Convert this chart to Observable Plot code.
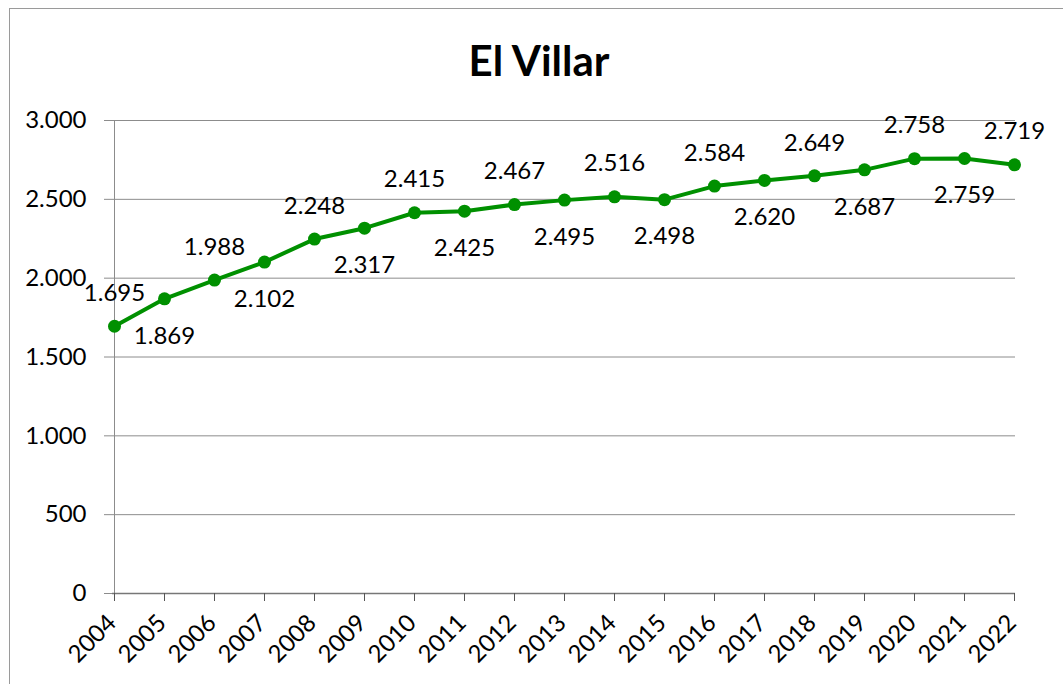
<!DOCTYPE html>
<html>
<head>
<meta charset="utf-8">
<script src="https://cdn.jsdelivr.net/npm/d3@7"></script>
<script src="https://cdn.jsdelivr.net/npm/@observablehq/plot@0.6"></script>
<style>
  html, body { margin: 0; padding: 0; background: #fff; overflow: hidden; }
  #wrap { position: relative; width: 1063px; height: 684px; }
  #frame { position: absolute; left: 9px; top: 8px; width: 1100px; height: 700px; border: 1px solid #9a9a9a; box-sizing: border-box; pointer-events: none; }
  #wrap svg { position: absolute; left: 0; top: 0; }
</style>
</head>
<body>
<div id="wrap"><div id="frame"></div></div>
<script>
const title = "El Villar";
const years = [2004, 2005, 2006, 2007, 2008, 2009, 2010, 2011, 2012, 2013, 2014, 2015, 2016, 2017, 2018, 2019, 2020, 2021, 2022];
const population = [1695, 1869, 1988, 2102, 2248, 2317, 2415, 2425, 2467, 2495, 2516, 2498, 2584, 2620, 2649, 2687, 2758, 2759, 2719];
const labelSide = ["above", "below", "above", "below", "above", "below", "above", "below", "above", "below", "above", "below", "above", "below", "above", "below", "above", "below", "above"];
const yTicks = [0, 500, 1000, 1500, 2000, 2500, 3000];

const fmt = d => d3.format(",")(d).replace(/,/g, ".");
const data = years.map((y, i) => ({year: y, value: population[i], side: labelSide[i]}));
const green = "#009000";
const font = "Lato, 'Open Sans', sans-serif";

const chart = Plot.plot({
  width: 1063,
  height: 684,
  marginLeft: 112,
  marginRight: 48,
  marginTop: 120,
  marginBottom: 91,
  style: { fontFamily: font, fontSize: "24px", color: "#000", background: "transparent" },
  x: { type: "point", domain: years, padding: 0 },
  y: { domain: [0, 3000] },
  marks: [
    Plot.gridY(yTicks, { stroke: "#8c8c8c", strokeOpacity: 1, strokeWidth: 1 }),
    Plot.axisY(yTicks, { tickSize: 8, tickPadding: 18, stroke: "#8c8c8c", tickFormat: fmt, fontSize: 24, label: null }),
    Plot.ruleX([years[0]], { stroke: "#8c8c8c", strokeWidth: 1 }),
    Plot.ruleY([0], { stroke: "#777", strokeWidth: 1.5 }),
    Plot.axisX(years, { tickSize: 8, stroke: "#555", tickFormat: () => "", label: null }),
    Plot.text(years, { x: d => d, frameAnchor: "bottom", text: d => String(d), rotate: -45, textAnchor: "end", dx: 3, dy: 31, fontSize: 24, fill: "#000" }),
    Plot.line(data, { x: "year", y: "value", stroke: green, strokeWidth: 4 }),
    Plot.dot(data, { x: "year", y: "value", fill: green, r: 6.5 }),
    Plot.text(data.filter(d => d.side === "above"), { x: "year", y: "value", text: d => fmt(d.value), dy: -33, fontSize: 24, fill: "#000" }),
    Plot.text(data.filter(d => d.side === "below"), { x: "year", y: "value", text: d => fmt(d.value), dy: 37, fontSize: 24, fill: "#000" }),
    Plot.text([title], { frameAnchor: "top", dx: -25, dy: -74, fontSize: 42, fontWeight: "bold", fill: "#000" })
  ]
});
document.getElementById("wrap").prepend(chart);
</script>
</body>
</html>
